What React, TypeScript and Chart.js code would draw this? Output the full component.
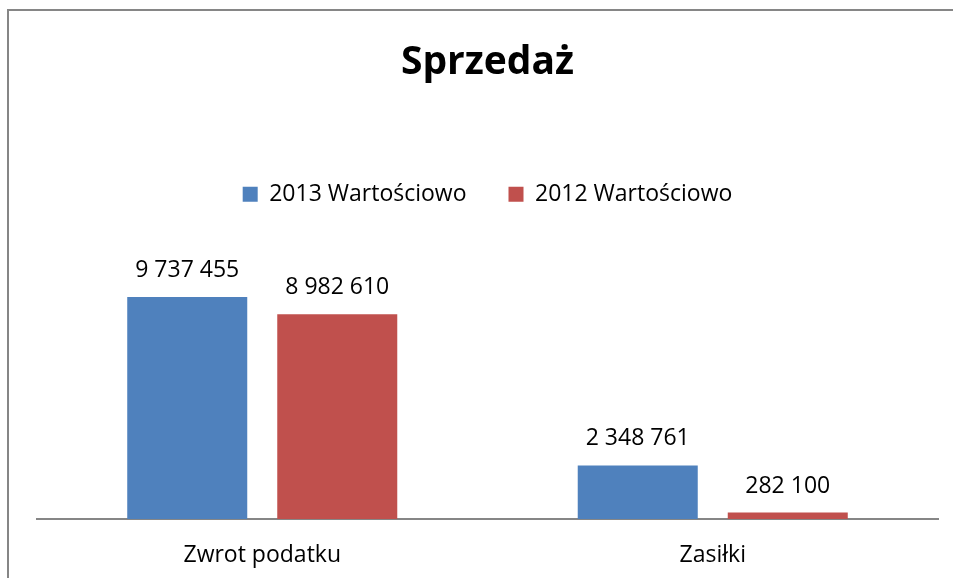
import React, { useEffect, useRef } from "react";
import { Chart, registerables } from "chart.js";

Chart.register(...registerables);

const categories = ["Zwrot podatku", "Zasiłki"];
const series2013 = [9737455, 2348761];
const series2012 = [8982610, 282100];
const seriesNames = ["2013 Wartościowo", "2012 Wartościowo"];
const chartTitle = "Sprzedaż";

const FONT = "'Open Sans', sans-serif";

const fmt = (v: number) => String(v).replace(/\B(?=(\d{3})+(?!\d))/g, " ");

const frame = {
  id: "frame",
  beforeDraw(chart: any) {
    const ctx = chart.ctx;
    ctx.save();
    ctx.fillStyle = "#fff";
    ctx.fillRect(0, 0, chart.width, chart.height);
    ctx.fillStyle = "#868686";
    ctx.fillRect(7, 9, 2, chart.height - 9);
    ctx.fillRect(7, 9, chart.width - 7, 2);
    ctx.restore();
  },
};

const dataLabels = {
  id: "dataLabels",
  afterDatasetsDraw(chart: any) {
    const ctx = chart.ctx;
    ctx.save();
    ctx.font = `23px ${FONT}`;
    ctx.fillStyle = "#000";
    ctx.textAlign = "center";
    ctx.textBaseline = "alphabetic";
    chart.data.datasets.forEach((ds: any, i: number) => {
      const meta = chart.getDatasetMeta(i);
      meta.data.forEach((el: any, j: number) => {
        ctx.fillText(fmt(ds.data[j]), el.x, el.y - 20);
      });
    });
    ctx.restore();
  },
};

export default function App() {
  const ref = useRef<HTMLCanvasElement>(null);
  useEffect(() => {
    if (!ref.current) return;
    const chart = new Chart(ref.current, {
      type: "bar",
      data: {
        labels: categories,
        datasets: [
          { label: seriesNames[0], data: series2013, backgroundColor: "#4F81BD" },
          { label: seriesNames[1], data: series2012, backgroundColor: "#C0504D" },
        ],
      },
      options: {
        responsive: false,
        animation: false,
        layout: { padding: { left: 37, right: 15, top: 0, bottom: 0 } },
        datasets: { bar: { barPercentage: 0.8, categoryPercentage: 0.666 } } as any,
        plugins: {
          title: {
            display: true,
            text: chartTitle,
            color: "#000",
            font: { family: FONT, size: 39, weight: "bold", lineHeight: 1.2 },
            padding: { top: 39, bottom: 55 },
          },
          legend: {
            display: true,
            position: "top",
            labels: {
              color: "#000",
              font: { family: FONT, size: 23 },
              boxWidth: 15,
              boxHeight: 15,
              padding: 42,
            },
          },
          tooltip: { enabled: false },
        },
        scales: {
          x: {
            grid: { display: false, drawTicks: false },
            border: { display: true, color: "#868686", width: 2 },
            ticks: { color: "#000", font: { family: FONT, size: 23 }, padding: 23 },
            afterFit: (s: any) => {
              s.height = 59;
            },
          },
          y: {
            display: false,
            min: 0,
            max: 13300000,
          },
        },
      },
      plugins: [frame, dataLabels],
    });
    return () => chart.destroy();
  }, []);
  return (
    <div style={{ position: "absolute", left: 0, top: 0, width: 953, height: 578, overflow: "hidden", background: "#fff" }}>
      <canvas ref={ref} width={953} height={578} style={{ position: "absolute", left: 0, top: 0, display: "block" }} />
    </div>
  );
}
